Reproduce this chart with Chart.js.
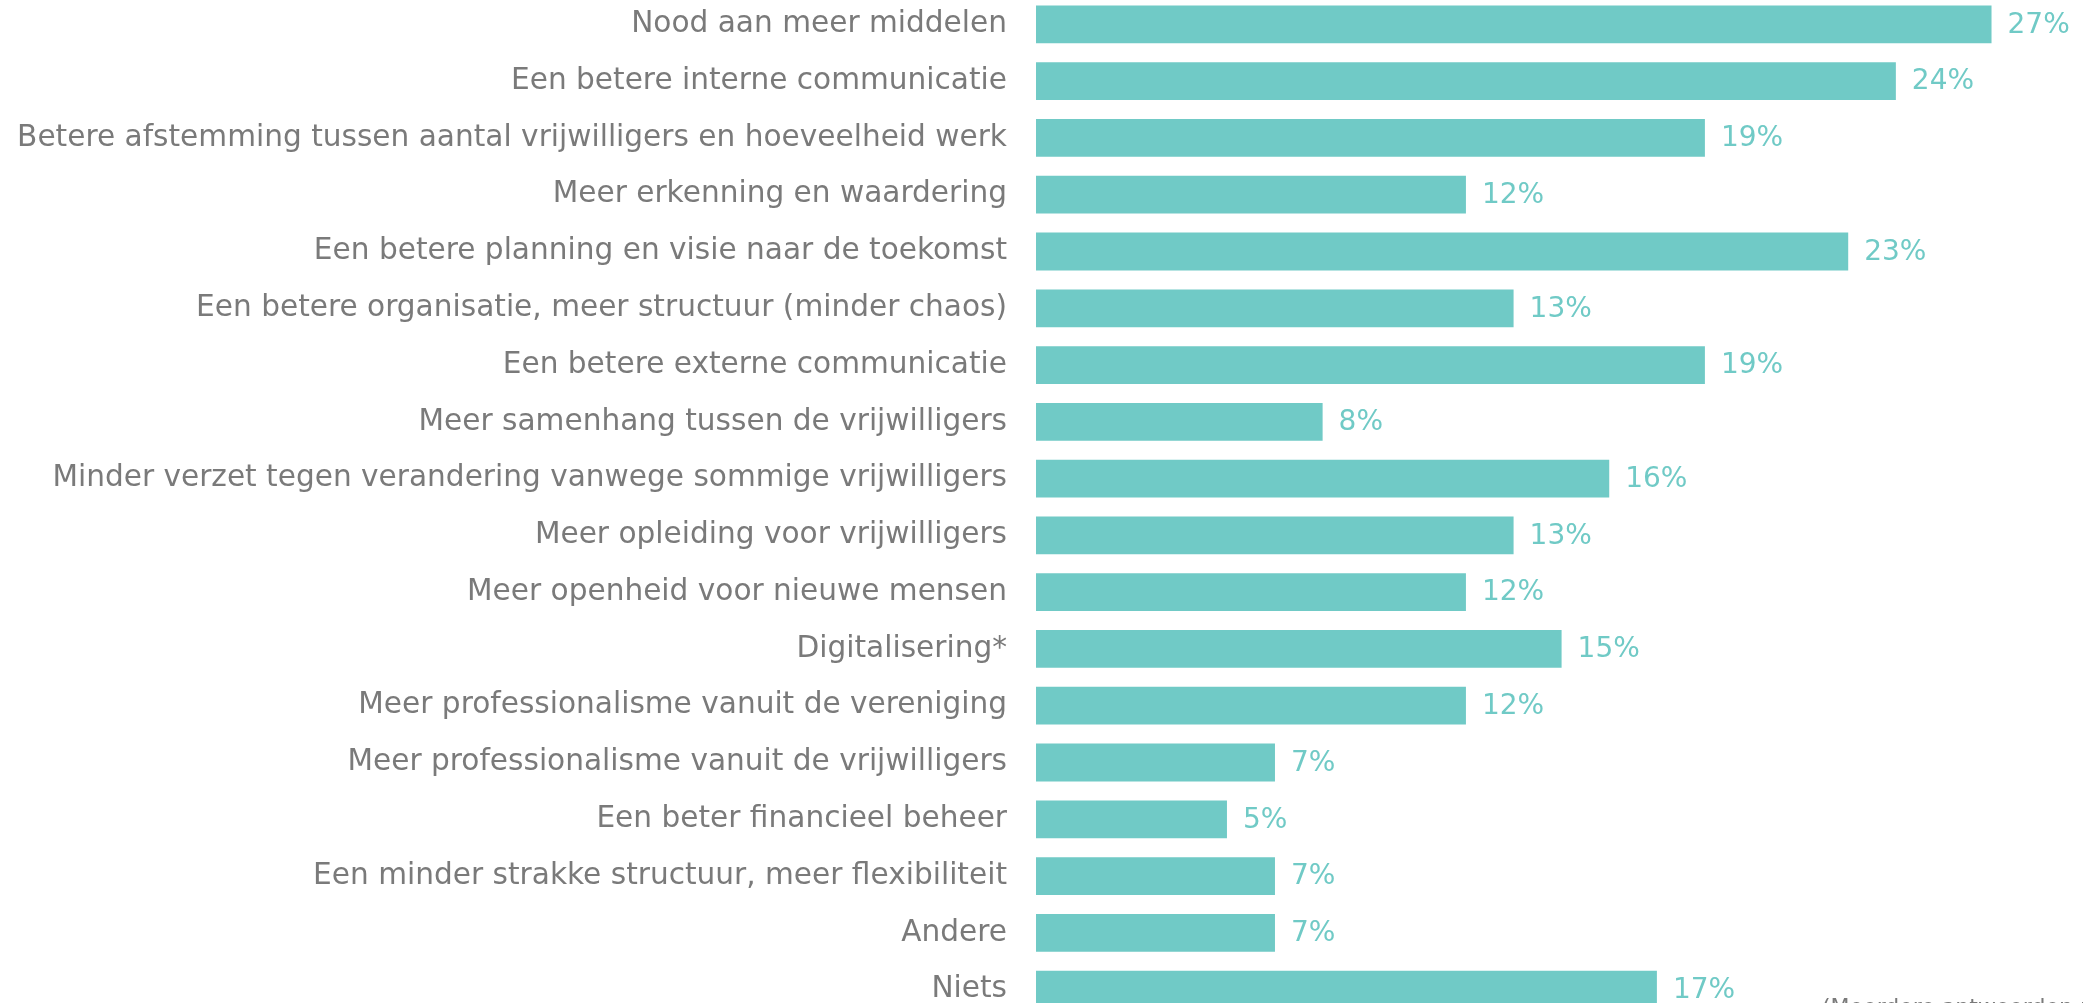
<!DOCTYPE html>
<html>
<head>
<meta charset="utf-8">
<script src="https://cdn.jsdelivr.net/npm/chart.js@4/dist/chart.umd.min.js"></script>
<style>
  html, body { margin: 0; padding: 0; overflow: hidden; background: #fff; }
  #wrap { position: absolute; left: 0; top: -4px; width: 2083px; height: 1022px; }
</style>
</head>
<body>
<div id="wrap"><canvas id="myChart"></canvas></div>
<script>
const categories = [
  'Nood aan meer middelen',
  'Een betere interne communicatie',
  'Betere afstemming tussen aantal vrijwilligers en hoeveelheid werk',
  'Meer erkenning en waardering',
  'Een betere planning en visie naar de toekomst',
  'Een betere organisatie, meer structuur (minder chaos)',
  'Een betere externe communicatie',
  'Meer samenhang tussen de vrijwilligers',
  'Minder verzet tegen verandering vanwege sommige vrijwilligers',
  'Meer opleiding voor vrijwilligers',
  'Meer openheid voor nieuwe mensen',
  'Digitalisering*',
  'Meer professionalisme vanuit de vereniging',
  'Meer professionalisme vanuit de vrijwilligers',
  'Een beter financieel beheer',
  'Een minder strakke structuur, meer flexibiliteit',
  'Andere',
  'Niets'
];

// percentages
const shares = [26.67, 24, 18.67, 12, 22.67, 13.33, 18.67, 8, 16, 13.33, 12, 14.67, 12, 6.67, 5.33, 6.67, 6.67, 17.33];

// labels as printed next to the bars
const shareLabels = ['27%', '24%', '19%', '12%', '23%', '13%', '19%', '8%', '16%', '13%', '12%', '15%', '12%', '7%', '5%', '7%', '7%', '17%'];

const footNote = '(Meerdere antwoorden mogelijk)';

const teal = '#70cac6';
const grey = '#7a7a7a';
const fontName = "'DejaVu Sans', sans-serif";

const valueLabels = {
  id: 'valueLabels',
  afterDatasetsDraw(chart) {
    const c = chart.ctx;
    const meta = chart.getDatasetMeta(0);
    c.save();
    c.font = '28px ' + fontName;
    c.fillStyle = teal;
    c.textAlign = 'left';
    c.textBaseline = 'middle';
    meta.data.forEach(function(bar, i) {
      c.fillText(shareLabels[i], bar.x + 16, bar.y + 1);
    });
    // note at the bottom, mostly cut off
    c.font = '22px ' + fontName;
    c.fillStyle = grey;
    c.textBaseline = 'top';
    c.fillText(footNote, 1822, 1001);
    c.restore();
  }
};

const data = {
  labels: categories,
  datasets: [{
    data: shares,
    backgroundColor: teal,
    borderWidth: 0,
    barPercentage: 0.665,
    categoryPercentage: 1
  }]
};

const config = {
  type: 'bar',
  data: data,
  options: {
    indexAxis: 'y',
    responsive: true,
    maintainAspectRatio: false,
    animation: false,
    layout: { padding: { left: 0, right: 8, top: 0, bottom: 0 } },
    plugins: {
      legend: { display: false },
      tooltip: { enabled: false }
    },
    scales: {
      x: { display: false, min: 0, max: 29 },
      y: {
        grid: { display: false, drawTicks: false },
        border: { display: false },
        ticks: {
          autoSkip: false,
          color: grey,
          padding: 29,
          font: { family: fontName, size: 29.6 }
        },
        afterFit: function(scale) {
          scale.width = 1036;
          scale.paddingTop = 0; // let the rows use the full height
          scale.paddingBottom = 0;
        }
      }
    }
  },
  plugins: [valueLabels]
};

const myChart = new Chart(document.getElementById('myChart'), config);
</script>
</body>
</html>
